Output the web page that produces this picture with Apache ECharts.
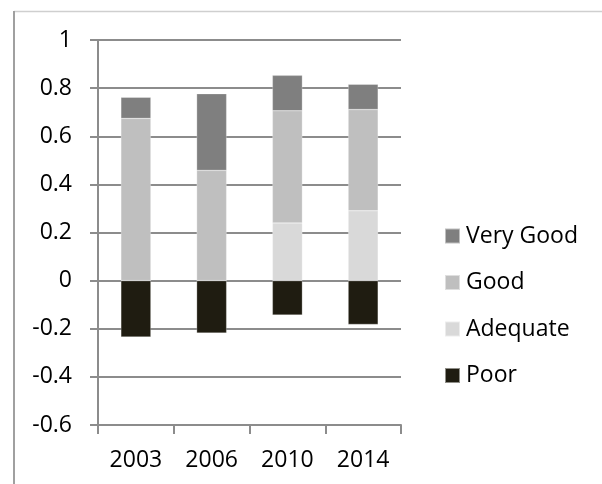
<!DOCTYPE html>
<html>
<head>
<meta charset="utf-8">
<script src="https://cdn.jsdelivr.net/npm/echarts@6/dist/echarts.min.js"></script>
<style>
html,body{margin:0;padding:0;background:#fff;}
#chart{width:602px;height:484px;}
</style>
</head>
<body>
<div id="chart"></div>
<script>
const categories = ['2003', '2006', '2010', '2014'];
const adequate = [0, 0, 0.24, 0.29];
const good = [0.674, 0.458, 0.466, 0.421];
const veryGood = [0.088, 0.319, 0.147, 0.105];
const poor = [-0.234, -0.218, -0.143, -0.182];
const legendOrder = ['Very Good', 'Good', 'Adequate', 'Poor'];
const yMin = -0.6, yMax = 1, yStep = 0.2;

const FONT = 'Open Sans';
const chart = echarts.init(document.getElementById('chart'));
const barW = 30;
function bar(name, data, color) {
  return {
    name: name, type: 'bar', stack: 'total', data: data, barWidth: barW,
    itemStyle: { color: color, borderColor: 'rgba(255,255,255,0.5)', borderWidth: 0.5 },
    emphasis: { disabled: true }
  };
}
chart.setOption({
  animation: false,
  backgroundColor: '#fff',
  textStyle: { fontFamily: FONT },
  grid: { left: 98, right: 201, top: 40, bottom: 59, containLabel: false },
  legend: {
    orient: 'vertical', left: 444, top: 224, padding: 0,
    data: legendOrder,
    itemWidth: 15, itemHeight: 15, itemGap: 22.5,
    icon: 'rect',
    textStyle: { fontFamily: FONT, fontSize: 23, color: '#000', lineHeight: 24, padding: [0,0,0,1] },
    selectedMode: false
  },
  xAxis: {
    type: 'category', data: categories,
    axisLine: { onZero: false, lineStyle: { color: '#8c8c8c', width: 2 } },
    axisTick: { show: true, length: 9, lineStyle: { color: '#8c8c8c', width: 2 } },
    axisLabel: { fontFamily: FONT, fontSize: 23, color: '#000', margin: 24 },
    splitLine: { show: false }
  },
  yAxis: {
    type: 'value', min: yMin, max: yMax, interval: yStep,
    axisLine: { show: true, lineStyle: { color: '#8c8c8c', width: 2 } },
    axisTick: { show: true, length: 8, lineStyle: { color: '#8c8c8c', width: 2 } },
    axisLabel: {
      fontFamily: FONT, fontSize: 23, color: '#000', margin: 26,
      formatter: function (v) { return String(+v.toFixed(1)); }
    },
    splitLine: { show: true, lineStyle: { color: '#8c8c8c', width: 2 } }
  },
  graphic: [
    { type: 'line', shape: { x1: 14, y1: 11.5, x2: 602, y2: 11.5 }, style: { stroke: '#cfcfcf', lineWidth: 1.5 }, silent: true },
    { type: 'line', shape: { x1: 14, y1: 11, x2: 14, y2: 484 }, style: { stroke: '#a0a0a0', lineWidth: 2 }, silent: true }
  ],
  series: [
    bar('Adequate', adequate, '#d9d9d9'),
    bar('Good', good, '#bfbfbf'),
    bar('Very Good', veryGood, '#7f7f7f'),
    bar('Poor', poor, '#1f1c11')
  ]
});
</script>
</body>
</html>
